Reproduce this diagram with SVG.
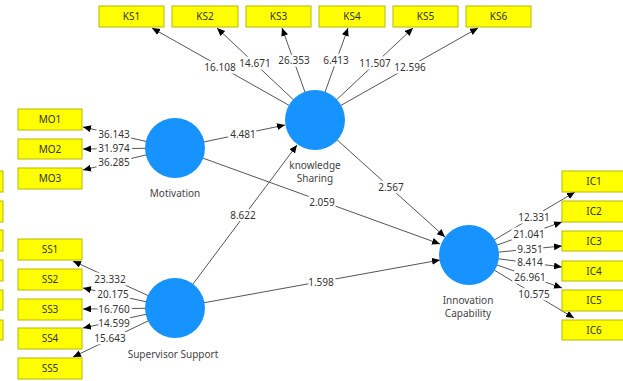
<svg xmlns="http://www.w3.org/2000/svg" width="623" height="381" viewBox="0 0 623 381">
<style>
.box{fill:#ffff00;stroke:#b8b800;stroke-width:1}
.bt{font-family:"Noto Sans","Liberation Sans",sans-serif;font-size:10px;fill:#333;text-anchor:middle}
.lv{font-family:"Noto Sans","Liberation Sans",sans-serif;font-size:10px;fill:#333;text-anchor:middle;stroke:#fff;stroke-width:5;paint-order:stroke;stroke-linejoin:round}
.nl{font-family:"Noto Sans","Liberation Sans",sans-serif;font-size:10px;fill:#444;text-anchor:middle}
.c{fill:#1793ff}
.e{stroke:#555;stroke-width:1;fill:none;marker-end:url(#ah)}
</style>
<defs>
<marker id="ah" markerUnits="userSpaceOnUse" markerWidth="9" markerHeight="8" refX="8" refY="3.5" orient="auto">
<path d="M0,0 L8,3.5 L0,7 z" fill="#000"/>
</marker>
</defs>
<rect width="623" height="381" fill="#fff"/>
<g id="connectors">
<line class="e" x1="315" y1="120" x2="152" y2="28"/>
<line class="e" x1="315" y1="120" x2="217" y2="28"/>
<line class="e" x1="315" y1="120" x2="282" y2="28"/>
<line class="e" x1="315" y1="120" x2="348" y2="28"/>
<line class="e" x1="315" y1="120" x2="413" y2="28"/>
<line class="e" x1="315" y1="120" x2="478" y2="28"/>
<line class="e" x1="175" y1="148" x2="83" y2="127"/>
<line class="e" x1="175" y1="148" x2="83" y2="149"/>
<line class="e" x1="175" y1="148" x2="83" y2="170"/>
<line class="e" x1="175" y1="308" x2="73" y2="261"/>
<line class="e" x1="175" y1="308" x2="83" y2="288"/>
<line class="e" x1="175" y1="308" x2="83" y2="309"/>
<line class="e" x1="175" y1="308" x2="83" y2="328"/>
<line class="e" x1="175" y1="308" x2="73" y2="357"/>
<line class="e" x1="469" y1="255" x2="575" y2="192"/>
<line class="e" x1="469" y1="255" x2="562" y2="222"/>
<line class="e" x1="469" y1="255" x2="562" y2="246"/>
<line class="e" x1="469" y1="255" x2="562" y2="267"/>
<line class="e" x1="469" y1="255" x2="562" y2="288"/>
<line class="e" x1="469" y1="255" x2="574" y2="318"/>
<line class="e" x1="175" y1="148" x2="285" y2="125"/>
<line class="e" x1="175" y1="148" x2="440" y2="244"/>
<line class="e" x1="175" y1="308" x2="297" y2="145"/>
<line class="e" x1="175" y1="308" x2="440" y2="260"/>
<line class="e" x1="315" y1="120" x2="445" y2="237"/>
<text class="lv" x="220" y="70.5">16.108</text>
<text class="lv" x="255" y="66.5">14.671</text>
<text class="lv" x="294" y="63.5">26.353</text>
<text class="lv" x="336" y="63.5">6.413</text>
<text class="lv" x="375" y="66.5">11.507</text>
<text class="lv" x="410" y="70.5">12.596</text>
<text class="lv" x="114" y="137.5">36.143</text>
<text class="lv" x="114" y="152">31.974</text>
<text class="lv" x="114" y="166">36.285</text>
<text class="lv" x="110" y="282.5">23.332</text>
<text class="lv" x="113" y="297.5">20.175</text>
<text class="lv" x="114" y="312.5">16.760</text>
<text class="lv" x="114" y="326.5">14.599</text>
<text class="lv" x="110" y="341.5">15.643</text>
<text class="lv" x="534" y="220.5">12.331</text>
<text class="lv" x="529" y="237.5">21.041</text>
<text class="lv" x="530" y="252.5">9.351</text>
<text class="lv" x="530" y="265.5">8.414</text>
<text class="lv" x="530" y="280.5">26.961</text>
<text class="lv" x="534" y="297.5">10.575</text>
<text class="lv" x="243" y="137.5">4.481</text>
<text class="lv" x="322" y="205.5">2.059</text>
<text class="lv" x="243" y="218.5">8.622</text>
<text class="lv" x="321" y="285.5">1.598</text>
<text class="lv" x="391" y="190.5">2.567</text>
</g>
<g id="partial-left">
<rect class="box" x="-62" y="171" width="65" height="21"/>
<rect class="box" x="-62" y="201" width="65" height="21"/>
<rect class="box" x="-62" y="230" width="65" height="21"/>
<rect class="box" x="-62" y="260" width="65" height="21"/>
<rect class="box" x="-62" y="290" width="65" height="20"/>
<rect class="box" x="-62" y="320" width="65" height="20"/>
</g>
<g id="KS1"><rect class="box" x="99" y="6" width="65" height="21"/><text class="bt" x="131.5" y="20">KS1</text></g>
<g id="KS2"><rect class="box" x="172" y="6" width="66" height="21"/><text class="bt" x="205" y="20">KS2</text></g>
<g id="KS3"><rect class="box" x="246" y="6" width="65" height="21"/><text class="bt" x="278.5" y="20">KS3</text></g>
<g id="KS4"><rect class="box" x="319" y="6" width="66" height="21"/><text class="bt" x="352" y="20">KS4</text></g>
<g id="KS5"><rect class="box" x="393" y="6" width="65" height="21"/><text class="bt" x="425.5" y="20">KS5</text></g>
<g id="KS6"><rect class="box" x="466" y="6" width="65" height="21"/><text class="bt" x="498.5" y="20">KS6</text></g>
<g id="MO1"><rect class="box" x="18" y="109" width="64" height="21"/><text class="bt" x="50" y="123">MO1</text></g>
<g id="MO2"><rect class="box" x="18" y="139" width="64" height="20"/><text class="bt" x="50" y="152.5">MO2</text></g>
<g id="MO3"><rect class="box" x="18" y="168" width="64" height="21"/><text class="bt" x="50" y="182">MO3</text></g>
<g id="SS1"><rect class="box" x="18" y="239" width="64" height="21"/><text class="bt" x="50" y="253">SS1</text></g>
<g id="SS2"><rect class="box" x="18" y="269" width="64" height="21"/><text class="bt" x="50" y="283">SS2</text></g>
<g id="SS3"><rect class="box" x="18" y="299" width="64" height="21"/><text class="bt" x="50" y="313">SS3</text></g>
<g id="SS4"><rect class="box" x="18" y="328" width="64" height="21"/><text class="bt" x="50" y="342">SS4</text></g>
<g id="SS5"><rect class="box" x="18" y="358" width="64" height="21"/><text class="bt" x="50" y="372">SS5</text></g>
<g id="IC1"><rect class="box" x="562" y="171" width="65" height="21"/><text class="bt" x="594" y="185">IC1</text></g>
<g id="IC2"><rect class="box" x="562" y="201" width="65" height="21"/><text class="bt" x="594" y="215">IC2</text></g>
<g id="IC3"><rect class="box" x="562" y="231" width="65" height="20"/><text class="bt" x="594" y="244.5">IC3</text></g>
<g id="IC4"><rect class="box" x="562" y="261" width="65" height="20"/><text class="bt" x="594" y="274.5">IC4</text></g>
<g id="IC5"><rect class="box" x="562" y="290" width="65" height="21"/><text class="bt" x="594" y="304">IC5</text></g>
<g id="IC6"><rect class="box" x="562" y="320" width="65" height="20"/><text class="bt" x="594" y="333.5">IC6</text></g>
<g id="Motivation"><circle class="c" cx="175" cy="148" r="30"/><text class="nl" x="175" y="197">Motivation</text></g>
<g id="KnowledgeSharing"><circle class="c" cx="315" cy="120" r="30"/><text class="nl" x="315" y="169">knowledge</text><text class="nl" x="315" y="182">Sharing</text></g>
<g id="SupervisorSupport"><circle class="c" cx="175" cy="308" r="30"/><text class="nl" x="173" y="358">Supervisor Support</text></g>
<g id="InnovationCapability"><circle class="c" cx="469" cy="255" r="30"/><text class="nl" x="468" y="304">Innovation</text><text class="nl" x="468" y="317">Capability</text></g>
</svg>
